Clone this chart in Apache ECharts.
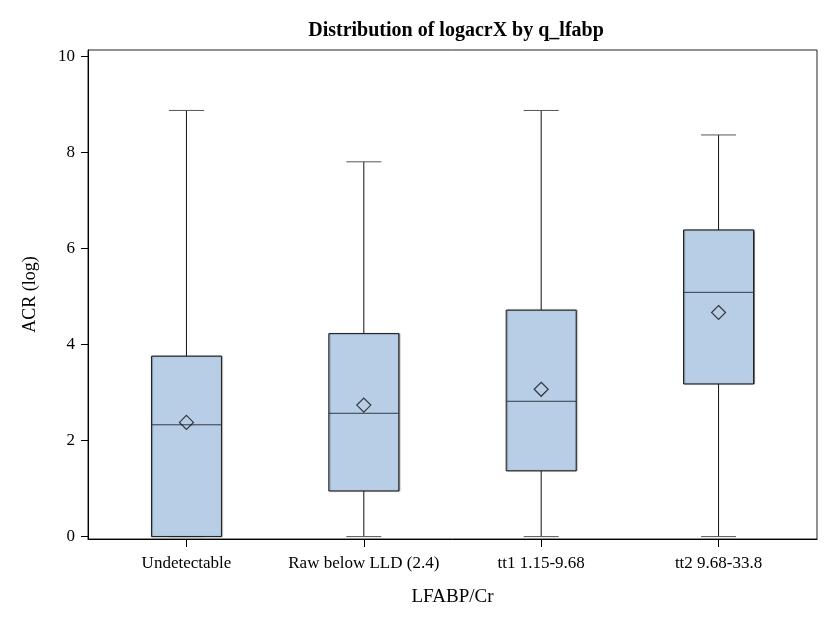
<!DOCTYPE html>
<html>
<head>
<meta charset="utf-8">
<script src="https://cdn.jsdelivr.net/npm/echarts@6/dist/echarts.min.js"></script>
<style>
  html, body { margin: 0; padding: 0; background: #fff; }
  #chart { width: 827px; height: 621px; }
</style>
</head>
<body>
<div id="chart"></div>
<script>
// Groups of LFABP/Cr and the five-number summary of log ACR in each
const categories = ['Undetectable', 'Raw below LLD (2.4)', 'tt1 1.15-9.68', 'tt2 9.68-33.8'];
const whiskerLow  = [0, 0, 0, 0];
const q1          = [0, 0.95, 1.37, 3.18];
const median      = [2.33, 2.57, 2.82, 5.09];
const q3          = [3.76, 4.23, 4.72, 6.39];
const whiskerHigh = [8.88, 7.81, 8.88, 8.37];
const mean        = [2.38, 2.74, 3.07, 4.67];
const yTicks      = [0, 2, 4, 6, 8, 10];

const positions = categories.map((_, i) => i);
const boxData = positions.map(i => [i, whiskerLow[i], q1[i], median[i], q3[i], whiskerHigh[i]]);
const meanData = positions.map(i => [i, mean[i]]);

const FONT = 'Liberation Serif';
const BOX_HALF = 35;
const CAP_HALF = 17.5;

function renderBox(params, api) {
  const x = api.value(0);
  const pLow = api.coord([x, api.value(1)]);
  const pQ1 = api.coord([x, api.value(2)]);
  const pMed = api.coord([x, api.value(3)]);
  const pQ3 = api.coord([x, api.value(4)]);
  const pHigh = api.coord([x, api.value(5)]);
  const cx = pMed[0];
  const line = (x1, y1, x2, y2, stroke) => ({
    type: 'line',
    shape: { x1, y1, x2, y2 },
    style: { stroke, lineWidth: 1 }
  });
  return {
    type: 'group',
    children: [
      // whiskers
      line(cx, pHigh[1], cx, pQ3[1], '#111'),
      line(cx, pQ1[1], cx, pLow[1], '#111'),
      line(cx - CAP_HALF, pHigh[1], cx + CAP_HALF, pHigh[1], '#555'),
      line(cx - CAP_HALF, pLow[1], cx + CAP_HALF, pLow[1], '#555'),
      // interquartile box
      {
        type: 'rect',
        shape: { x: cx - BOX_HALF, y: pQ3[1], width: BOX_HALF * 2, height: pQ1[1] - pQ3[1] },
        style: { fill: '#b8cee6', stroke: '#1a1a1a', lineWidth: 1, shadowColor: 'rgba(0,0,0,0.35)', shadowOffsetX: 1, shadowOffsetY: 0, shadowBlur: 1 }
      },
      // median
      line(cx - BOX_HALF, pMed[1], cx + BOX_HALF, pMed[1], '#2e3a48')
    ]
  };
}

const chart = echarts.init(document.getElementById('chart'), null, { renderer: 'canvas' });
chart.setOption({
  animation: false,
  backgroundColor: '#ffffff',
  title: {
    text: 'Distribution of logacrX by q_lfabp',
    left: 451,
    textAlign: 'center',
    top: 16,
    textStyle: { fontFamily: FONT, fontSize: 20, fontWeight: 'bold', color: '#000' }
  },
  grid: {
    left: 88, right: 10, top: 50, bottom: 82,
    show: true, borderColor: '#222', borderWidth: 1, backgroundColor: 'transparent'
  },
  xAxis: {
    type: 'value',
    min: -0.555,
    max: 3.555,
    name: 'LFABP/Cr',
    nameLocation: 'middle',
    nameGap: 49,
    nameTextStyle: { fontFamily: FONT, fontSize: 19, color: '#000' },
    splitLine: { show: false },
    axisLine: { show: true, onZero: false, lineStyle: { color: '#000', width: 1 } },
    axisTick: { show: true, length: 8, customValues: positions, lineStyle: { color: '#000' } },
    axisLabel: {
      customValues: positions,
      formatter: v => categories[Math.round(v)] || '',
      margin: 16,
      fontFamily: FONT, fontSize: 17, color: '#000'
    }
  },
  yAxis: {
    type: 'value',
    min: -0.05,
    max: 10.14,
    name: 'ACR (log)',
    nameLocation: 'middle',
    nameGap: 49,
    nameRotate: 90,
    nameTextStyle: { fontFamily: FONT, fontSize: 18, color: '#000' },
    splitLine: { show: false },
    axisLine: { show: true, onZero: false, lineStyle: { color: '#000', width: 1 } },
    axisTick: { show: true, length: 7, customValues: yTicks, lineStyle: { color: '#000' } },
    axisLabel: {
      customValues: yTicks,
      margin: 13,
      fontFamily: FONT, fontSize: 17, color: '#000'
    }
  },
  series: [
    {
      type: 'custom',
      renderItem: renderBox,
      encode: { x: 0, y: [1, 2, 3, 4, 5] },
      data: boxData,
      z: 2
    },
    {
      type: 'scatter',
      data: meanData,
      symbol: 'diamond',
      symbolSize: [14, 14],
      itemStyle: { color: 'rgba(0,0,0,0)', borderColor: '#111', borderWidth: 1.2 },
      z: 3
    }
  ]
});
</script>
</body>
</html>
